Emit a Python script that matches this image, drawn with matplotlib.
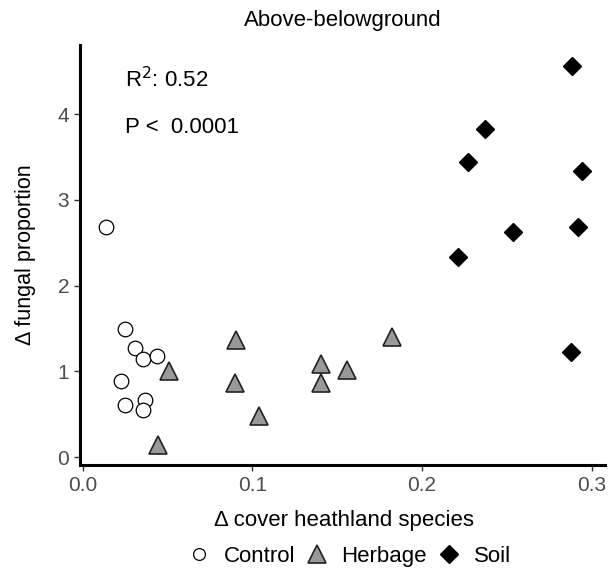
"""Above-belowground scatter: change in fungal proportion vs heathland cover."""

import matplotlib

matplotlib.use("Agg")
import matplotlib.pyplot as plt  # noqa: E402

plt.rcParams["font.family"] = ["Liberation Sans", "DejaVu Sans"]

# Control plots
control_x = [0.0138, 0.0248, 0.0306, 0.0355, 0.0437, 0.0228, 0.0247, 0.0370, 0.0355]
control_y = [2.69, 1.49, 1.27, 1.14, 1.18, 0.89, 0.61, 0.67, 0.55]

# Herbage treatment
herbage_x = [0.0511, 0.0443, 0.0906, 0.0898, 0.1040, 0.1406, 0.1403, 0.1555, 0.1825]
herbage_y = [1.00, 0.14, 1.37, 0.87, 0.48, 1.09, 0.86, 1.02, 1.40]

# Soil treatment
soil_x = [0.2883, 0.2372, 0.2271, 0.2940, 0.2535, 0.2922, 0.2212, 0.2877]
soil_y = [4.56, 3.83, 3.44, 3.34, 2.63, 2.69, 2.34, 1.23]

x_ticks = [0.0, 0.1, 0.2, 0.3]
y_ticks = [0, 1, 2, 3, 4]

fig = plt.figure(figsize=(6.12, 5.74), dpi=100)
ax = fig.add_axes([0.131, 0.19, 0.858, 0.732])

ax.plot(control_x, control_y, linestyle="none", marker="o", markersize=10.5,
        markerfacecolor="white", markeredgecolor="black", markeredgewidth=0.9,
        label="Control")
ax.plot(herbage_x, herbage_y, linestyle="none", marker="^", markersize=13.5,
        markerfacecolor="#999999", markeredgecolor="#222222", markeredgewidth=1.2,
        label="Herbage")
ax.plot(soil_x, soil_y, linestyle="none", marker="D", markersize=9,
        markerfacecolor="black", markeredgecolor="black", label="Soil")

ax.set_xlim(-0.0015, 0.308)
ax.set_ylim(-0.09, 4.81)
ax.set_xticks(x_ticks)
ax.set_xticklabels([f"{v:.1f}" for v in x_ticks])
ax.set_yticks(y_ticks)

for side in ("top", "right"):
    ax.spines[side].set_visible(False)
for side in ("left", "bottom"):
    ax.spines[side].set_linewidth(2.2)
    ax.spines[side].set_color("black")
ax.tick_params(length=4, width=1, color="#333333", labelcolor="#4d4d4d",
               labelsize=15, pad=4)

ax.set_xlabel("\u0394 cover heathland species", fontsize=16, va="center")
ax.xaxis.set_label_coords(0.502, -0.133)
ax.set_ylabel("\u0394 fungal proportion", fontsize=15.5, va="center")
ax.yaxis.set_label_coords(-0.104, 0.5)
ax.set_title("Above-belowground", fontsize=16, pad=0, y=1.058, va="center")

ax.text(0.025, 4.40, "R$^2$: 0.52", fontsize=16, va="center", ha="left")
ax.text(0.025, 3.84, "P <  0.0001", fontsize=16, va="center", ha="left")

legend = fig.legend(loc="center", bbox_to_anchor=(0.570, 0.031), ncol=3,
                    frameon=False, fontsize=16, handletextpad=0.55,
                    columnspacing=0.45, handlelength=1.1, borderaxespad=0)
legend.legend_handles[0].set_markersize(8.5)

fig.savefig("out.png", dpi=100)
plt.close(fig)
